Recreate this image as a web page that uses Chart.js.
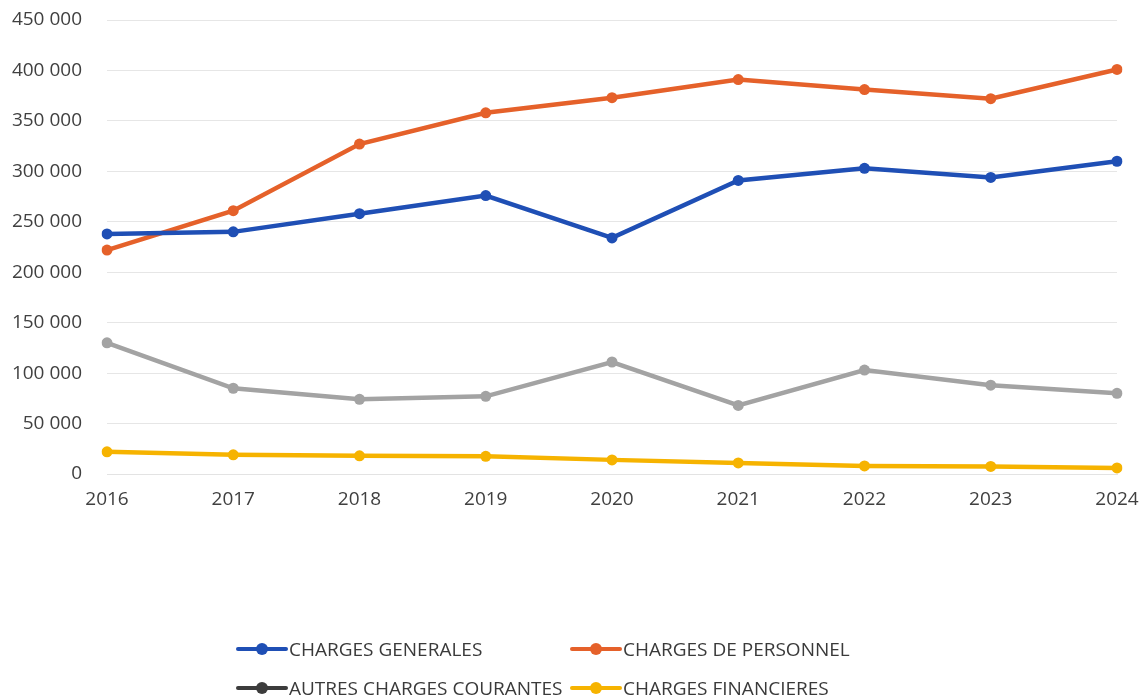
<!DOCTYPE html>
<html>
<head>
<meta charset="utf-8">
<script src="https://cdn.jsdelivr.net/npm/chart.js@4/dist/chart.umd.min.js"></script>
<style>
  html, body { margin: 0; padding: 0; background: #fff; }
  #wrap { position: relative; width: 1140px; height: 698px; }
  #legend {
    position: absolute; left: 236px; top: 636px;
    display: grid; grid-template-columns: 334px auto; row-gap: 14px;
    font-family: "Open Sans", sans-serif; font-size: 19px; color: #3a3a3a;
  }
  .item { display: flex; align-items: center; height: 25px; white-space: nowrap; }
  .mark { position: relative; width: 52px; height: 12px; margin-right: 1px; }
  .mark .ln { position: absolute; left: 0; right: 0; top: 4px; height: 4px; border-radius: 2px; }
  .mark .dt { position: absolute; left: 20px; top: 0; width: 12px; height: 12px; border-radius: 50%; }
</style>
</head>
<body>
<div id="wrap">
  <canvas id="charges" width="1140" height="698"></canvas>
  <div id="legend"></div>
</div>
<script>
////////// Evolution des charges

// Data
const years = ["2016", "2017", "2018", "2019", "2020", "2021", "2022", "2023", "2024"];
const seriesNames = [
  "CHARGES GENERALES",
  "CHARGES DE PERSONNEL",
  "AUTRES CHARGES COURANTES",
  "CHARGES FINANCIERES",
];
const chargesGenerales = [238000, 240000, 258000, 276000, 234000, 291000, 303000, 294000, 310000];
const chargesPersonnel = [222000, 261000, 327000, 358000, 373000, 391000, 381000, 372000, 401000];
const autresCharges = [130000, 85000, 74000, 77000, 111000, 68000, 103000, 88000, 80000];
const chargesFinancieres = [22000, 19000, 18000, 17500, 14000, 11000, 8000, 7500, 6000];
const yTicks = [0, 50000, 100000, 150000, 200000, 250000, 300000, 350000, 400000, 450000];

const seriesValues = [chargesGenerales, chargesPersonnel, autresCharges, chargesFinancieres];
const lineColors = ["#1f4fb5", "#e5612a", "#a3a3a3", "#f6b300"];
const legendColors = ["#1f4fb5", "#e5612a", "#3c3c3c", "#f6b300"];

const fmt = (v) => v.toLocaleString("fr-FR").replace(/\s/g, " ");

const chargesData = {
  labels: years,
  datasets: seriesValues.map((vals, i) => ({
    label: seriesNames[i],
    data: vals,
    borderColor: lineColors[i],
    backgroundColor: lineColors[i],
    borderWidth: 4.5,
    pointRadius: 5.5,
    pointBorderWidth: 0,
    tension: 0,
    fill: false,
  })),
};

const chargesChart = new Chart(document.getElementById("charges").getContext("2d"), {
  type: "line",
  data: chargesData,
  options: {
    responsive: false,
    animation: false,
    layout: { autoPadding: false, padding: { top: 20, right: 23, bottom: 184, left: 0 } },
    plugins: { legend: { display: false }, tooltip: { enabled: false } },
    scales: {
      x: {
        offset: false,
        grid: { display: false, drawTicks: false },
        border: { display: true, color: "#e3e3e3", width: 1 },
        ticks: {
          color: "#404040",
          padding: 14,
          maxRotation: 0,
          font: { family: "Open Sans", size: 19 },
        },
        afterFit: (scale) => {
          scale.height = 40;
          scale.paddingLeft = 0;
          scale.paddingRight = 0;
        },
      },
      y: {
        min: 0,
        max: 450000,
        afterBuildTicks: (scale) => { scale.ticks = yTicks.map((v) => ({ value: v })); },
        grid: { color: "#e6e6e6", lineWidth: 1, drawTicks: false },
        border: { display: false },
        ticks: {
          color: "#404040",
          padding: 25,
          callback: (v) => fmt(v),
          font: { family: "Open Sans", size: 19 },
        },
        afterFit: (scale) => {
          scale.width = 107;
          scale.paddingTop = 0;
          scale.paddingBottom = 0;
        },
      },
    },
  },
});

// Legend (two aligned columns like the original)
const legendEl = document.getElementById("legend");
seriesNames.forEach((name, i) => {
  const item = document.createElement("div");
  item.className = "item";
  item.innerHTML =
    '<span class="mark"><span class="ln" style="background:' + legendColors[i] + '"></span>' +
    '<span class="dt" style="background:' + legendColors[i] + '"></span></span>' +
    "<span>" + name + "</span>";
  legendEl.appendChild(item);
});
</script>
</body>
</html>
